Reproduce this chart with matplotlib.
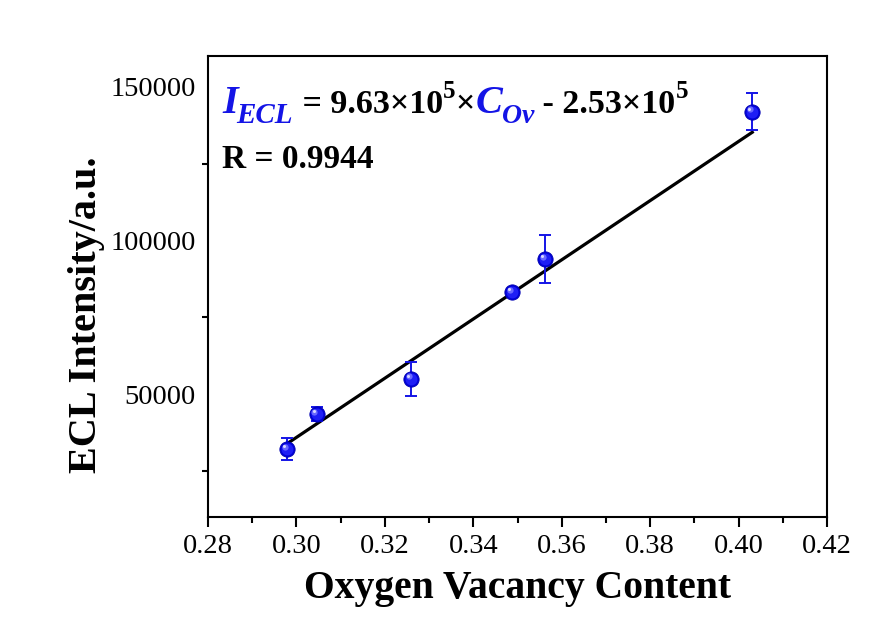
import matplotlib
matplotlib.use("Agg")
import matplotlib.pyplot as plt
import numpy as np
from matplotlib import transforms

# ---- data ----
ov_content = [0.2979, 0.3046, 0.3260, 0.3488, 0.3563, 0.4031]
ecl_intensity = [32000, 43400, 55000, 83100, 93800, 141900]
ecl_error = [3600, 2300, 5500, 1200, 7800, 6100]
fit_slope = 9.63e5
fit_intercept = -2.53e5
x_ticks = [0.28, 0.30, 0.32, 0.34, 0.36, 0.38, 0.40, 0.42]
y_ticks = [50000, 100000, 150000]
y_minor = [25000, 75000, 125000]

W, H = 896, 637
fig = plt.figure(figsize=(W / 100, H / 100), dpi=100)
fig.patch.set_facecolor("white")
ax = fig.add_axes([208 / W, 1 - 517 / H, (827 - 208) / W, (517 - 56) / H])

serif = "Liberation Serif"
blue = "#1414e6"

# fit line
xf = np.array([min(ov_content), max(ov_content)])
ax.plot(xf, fit_slope * xf + fit_intercept, color="black", lw=2.3, zorder=2)

# error bars
ax.errorbar(ov_content, ecl_intensity, yerr=ecl_error, fmt="none", ecolor=blue,
            elinewidth=1.4, capsize=4, capthick=1.4, zorder=3)
# sphere-like markers
ax.plot(ov_content, ecl_intensity, "o", ms=11, color="#0000d8", mec="#0000b0", mew=0.6, zorder=4)
ax.plot(ov_content, ecl_intensity, "o", ms=8.5, color="#1e1ef5", mec="none", zorder=5)
hl = transforms.offset_copy(ax.transData, fig=fig, x=-1.8, y=1.8, units="points")
ax.plot(ov_content, ecl_intensity, "o", ms=4.5, color="#6a6aff", mec="none", zorder=6, transform=hl)
hl2 = transforms.offset_copy(ax.transData, fig=fig, x=-2.2, y=2.2, units="points")
ax.plot(ov_content, ecl_intensity, "o", ms=2.2, color="#d8d8ff", mec="none", zorder=7, transform=hl2)

ax.set_xlim(0.28, 0.42)
ax.set_ylim(10000, 160000)
ax.set_xticks(x_ticks)
ax.set_xticklabels([f"{v:.2f}" for v in x_ticks])
ax.set_xticks([0.29, 0.31, 0.33, 0.35, 0.37, 0.39, 0.41], minor=True)
ax.set_yticks(y_ticks)
ax.set_yticklabels([str(v) for v in y_ticks])
ax.set_yticks(y_minor, minor=True)

for s in ax.spines.values():
    s.set_linewidth(1.5)
ax.tick_params(axis="x", which="major", direction="out", length=7, width=1.5, pad=5,
               labelsize=20.5, top=False)
ax.tick_params(axis="x", which="minor", direction="out", length=4.5, width=1.5, top=False)
ax.tick_params(axis="y", which="major", direction="out", length=0, width=1.5, pad=9,
               labelsize=20.5, right=False)
ax.tick_params(axis="y", which="minor", direction="out", length=4.5, width=1.5, right=False)
for lab in ax.get_xticklabels() + ax.get_yticklabels():
    lab.set_fontfamily(serif)

ax.set_xlabel("Oxygen Vacancy Content", fontsize=28.5, fontweight="bold", family=serif, labelpad=8)
ax.set_ylabel("ECL Intensity/a.u.", fontsize=29, fontweight="bold", family=serif)
ax.yaxis.set_label_coords((105 - 208) / 619, (517 - 315) / 461)

# ---- equation composed piecewise ----
fig.canvas.draw()
renderer = fig.canvas.get_renderer()

def put(xpix, base_pix_from_top, txt, size, color, style="normal"):
    t = fig.text(xpix / W, 1 - base_pix_from_top / H, txt, fontsize=size, color=color,
                 fontweight="bold", fontstyle=style, family=serif, va="baseline", ha="left")
    bb = t.get_window_extent(renderer)
    return bb.x1

base = 113
x = 222
x = put(x, base, "I", 29, blue, "italic")
x = put(x - 1, base + 10, "ECL", 21, blue, "italic")
x = put(x + 1, base, " = 9.63\u00d710", 24.5, "black")
x = put(x, base - 15, "5", 18, "black")
x = put(x, base, "\u00d7", 24.5, "black")
x = put(x, base, "C", 29, blue, "italic")
x = put(x, base + 10, "Ov", 20, blue, "italic")
x = put(x, base, " - 2.53\u00d710", 24.5, "black")
x = put(x, base - 15, "5", 18, "black")

put(222, 168, "R = 0.9944", 24, "black")

fig.savefig("out.png", dpi=100, facecolor="white")
